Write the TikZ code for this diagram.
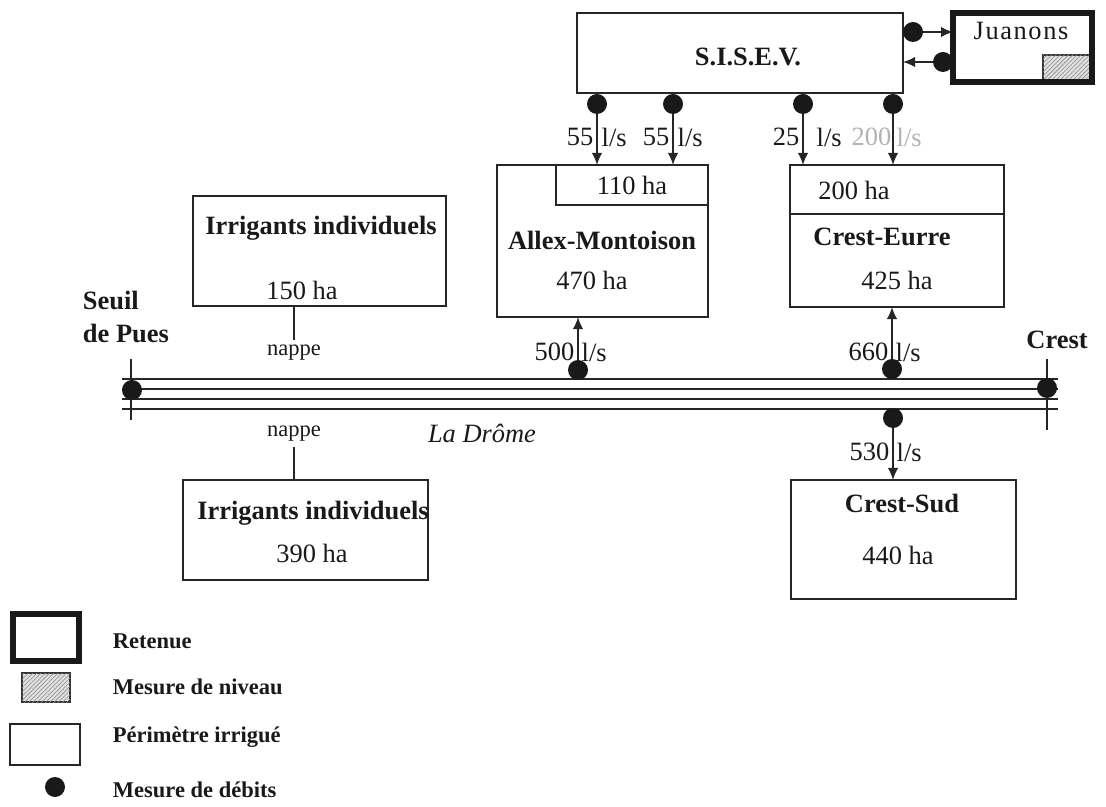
\documentclass[tikz,border=0pt]{standalone}
\usepackage{fontspec}
\setmainfont{Liberation Serif}
\usetikzlibrary{arrows.meta,positioning,patterns}

\begin{document}
\begin{tikzpicture}[
  x=0.025cm, y=-0.025cm,
  font=\fontsize{18.8}{22.5}\selectfont, text=black!90,
  sz/.style 2 args={minimum width=#1*0.025cm,minimum height=#2*0.025cm},
  perim/.style={draw=black!85,line width=1.4pt,inner sep=0pt,outer sep=0pt},
  retenue/.style={draw=black!90,line width=3.6pt,inner sep=0pt,outer sep=0pt},
  gauge/.style={draw=black!80,line width=1pt,inner sep=0pt,outer sep=0pt,fill=black!12,postaction={pattern=north east lines,pattern color=black!45}},
  dot/.style={circle,fill=black!90,inner sep=0pt,minimum size=0.5cm},
  heading/.style={font=\fontsize{18.8}{23.5}\selectfont\bfseries},
  value/.style={font=\fontsize{18.8}{22.5}\selectfont},
  nappe/.style={font=\fontsize{16}{19}\selectfont},
  flow/.style={inner sep=1pt,font=\fontsize{18.8}{22.5}\selectfont},
  faded/.style={text=black!30},
  arrow/.style={-{Latex[length=3mm,width=2.6mm]},line width=1.2pt,draw=black!85},
  wire/.style={line width=1.2pt,draw=black!85},
  river/.style={line width=1.5pt,draw=black!85},
  legend/.style={anchor=west,font=\fontsize{16}{19}\selectfont\bfseries}
]
  \useasboundingbox (0,0) rectangle (1106,807);

  % S.I.S.E.V. and the Juanons reservoir
  \node[perim, sz={326}{80}] (sisev) at (740,53) {};
  \node[heading] (sisevtxt) at (748,57) {S.I.S.E.V.};
  \node[gauge, sz={47}{25}] (juanonsgauge) at (1066.5,67.5) {};
  \node[retenue, sz={139}{69}] (juanons) at (1022.5,47.5) {};
  \node[value] (juanonstxt) at (1021,31) {\addfontfeatures{LetterSpace=6}Juanons};
  \node[dot] (jout) at (913,32) {};
  \node[dot] (jin) at (943,62) {};
  \draw[arrow] (jout) -- (jout -| juanons.west);
  \draw[arrow] (jin) -- (jin -| sisev.east);

  % perimeters fed by the S.I.S.E.V.
  \node[perim, sz={211}{152}] (allex) at (602.5,241) {};
  \node[perim, sz={152}{40}, value] (allexsub) at (632,185) {110 ha};
  \node[heading] (allextxt) at (602,240) {Allex-Montoison};
  \node[value] (allexha) at (592,280) {470 ha};
  \node[perim, sz={214}{142}] (eurre) at (897,236) {};
  \node[perim, sz={214}{49}, anchor=north] (eurresub) at (eurre.north) {};
  \node[value] (eurresubtxt) at (854,190) {200 ha};
  \node[heading] (eurretxt) at (882,237) {Crest-Eurre};
  \node[value] (eurreha) at (897,280) {425 ha};

  \node[dot] (s1) at (597,104) {};
  \node[dot] (s2) at (673,104) {};
  \node[dot] (s3) at (803,104) {};
  \node[dot] (s4) at (893,104) {};
  \draw[arrow] (s1) -- (s1 |- allex.north);
  \draw[arrow] (s2) -- (s2 |- allex.north);
  \draw[arrow] (s3) -- (s3 |- eurre.north);
  \draw[arrow] (s4) -- (s4 |- eurre.north);
  \node[flow, anchor=east] (q1) at (595,137) {55};
  \node[flow, anchor=west] (q1u) at (600,137) {l/s};
  \node[flow, anchor=east] (q2) at (671,137) {55};
  \node[flow, anchor=west] (q2u) at (676,137) {l/s};
  \node[flow, anchor=east] (q3) at (801,137) {25};
  \node[flow, anchor=west] (q3u) at (815,137) {l/s};
  \node[flow, faded, anchor=east] (q4) at (893,137) {200};
  \node[flow, faded, anchor=west] (q4u) at (895,137) {l/s};

  % individual irrigators
  \node[perim, sz={253}{110}] (irrnord) at (319.5,251) {};
  \node[heading] (irrnordtxt) at (321,228) {Irrigants individuels};
  \node[value] (irrnordha) at (302,290) {150 ha};
  \node[nappe] (nappenord) at (294,353) {nappe};
  \draw[wire] (nappenord |- irrnord.south) -- (nappenord);
  \node[perim, sz={245}{100}] (irrsud) at (305.5,530) {};
  \node[heading] (irrsudtxt) at (313,513) {Irrigants individuels};
  \node[value] (irrsudha) at (312,553) {390 ha};
  \node[nappe] (nappesud) at (294,434) {nappe};
  \draw[wire] (nappesud) -- (nappesud |- irrsud.north);

  % la Drome
  \foreach \yy in {379,389,399,409}
    \draw[river] (122,\yy) -- (1058,\yy);
  \draw[river] (131,359) -- (131,420);
  \draw[river] (1047,359) -- (1047,430);
  \node[dot] (pues) at (132,390) {};
  \node[dot] (crestdot) at (1047,388) {};
  \node[heading, align=left, anchor=west] (puestxt) at (78,317) {Seuil\\de Pues};
  \node[heading] (cresttxt) at (1057,340) {Crest};
  \node[value, font=\fontsize{18.8}{22.5}\selectfont\itshape] (drome) at (482,433) {La Drôme};

  % pumping from the river
  \node[perim, sz={225}{119}] (sud) at (903.5,539.5) {};
  \node[heading] (sudtxt) at (902,503) {Crest-Sud};
  \node[value] (sudha) at (898,555) {440 ha};
  \node[dot] (pallex) at (578,370) {};
  \node[dot] (peurre) at (892,369) {};
  \node[dot] (psud) at (893,418) {};
  \draw[arrow] (pallex) -- (pallex |- allex.south);
  \draw[arrow] (peurre) -- (peurre |- eurre.south);
  \draw[arrow] (psud) -- (psud |- sud.north);
  \node[flow, anchor=east] (q5) at (576,352) {500};
  \node[flow, anchor=west] (q5u) at (580,352) {l/s};
  \node[flow, anchor=east] (q6) at (890,352) {660};
  \node[flow, anchor=west] (q6u) at (894,352) {l/s};
  \node[flow, anchor=east] (q7) at (891,452) {530};
  \node[flow, anchor=west] (q7u) at (895,452) {l/s};

  % legend
  \node[retenue, line width=4.2pt, sz={66}{47}] (legretenue) at (46,637.5) {};
  \node[gauge, sz={48}{29}] (leggauge) at (46,687.5) {};
  \node[perim, sz={70}{41}] (legperim) at (45,744.5) {};
  \node[dot] (legdot) at (55,787) {};
  \node[legend] (legretenuetxt) at (108,641) {Retenue};
  \node[legend] (leggaugetxt) at (108,687) {Mesure de niveau};
  \node[legend] (legperimtxt) at (108,737) {Périmètre irrigué};
  \node[legend] (legdottxt) at (108,790) {Mesure de débits};
\end{tikzpicture}
\end{document}
